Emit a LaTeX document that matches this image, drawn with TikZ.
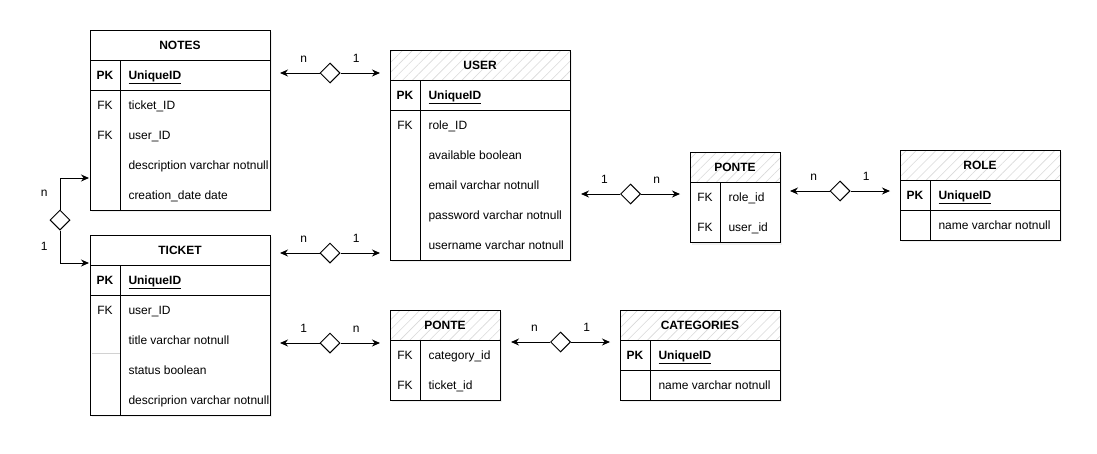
\documentclass[tikz,border=0pt]{standalone}
\usepackage{fontspec}
\setmainfont{Liberation Sans}
\usetikzlibrary{arrows.meta,shapes.geometric,patterns.meta,shadows}
\tikzstyle{table} = [draw, fill=white, rectangle, anchor=north west, inner sep=0pt, outer sep=0pt, drop shadow={shadow xshift=2pt, shadow yshift=-2pt, opacity=.12}]
\tikzstyle{header} = [draw, rectangle, anchor=north west, minimum height=30pt, inner sep=0pt, outer sep=0pt, text height=8.6pt, text depth=0pt, font=\fontsize{12}{14}\selectfont\bfseries]
\tikzstyle{hatched} = [header, preaction={fill=white}, pattern={Lines[angle=45,distance=7pt,line width=.6pt]}, pattern color=gray!30]
\tikzstyle{key} = [inner sep=0pt, text height=8.6pt, text depth=0pt, font=\fontsize{12}{14}\selectfont]
\tikzstyle{field} = [key, anchor=west]
\tikzstyle{rel} = [draw, fill=white, shape=diamond, minimum width=20pt, minimum height=20pt, inner sep=0pt]
\tikzstyle{card} = [inner sep=0pt, font=\fontsize{12}{14}\selectfont]
\tikzstyle{conn} = [-{Stealth[length=8pt,width=7pt]}]

\begin{document}
\begin{tikzpicture}[x=1pt, y=-1pt, line width=1pt]
    \useasboundingbox (0,0) rectangle (1097,453);

    % NOTES
    \draw (90,30) node[table, minimum width=180pt, minimum height=180pt] (notes) {};
    \draw (90,30) node[header, minimum width=180pt] (notes-h) {NOTES};
    \draw (90,90) -- (270,90);
    \draw (120,60) -- (120,210);
    \node[key] (notes-k0) at (105,75) {\textbf{PK}};
    \node[field] (notes-f0) at (128,75) {\textbf{\underline{UniqueID}}};
    \node[key] (notes-k1) at (105,105) {FK};
    \node[field] (notes-f1) at (128,105) {ticket\_ID};
    \node[key] (notes-k2) at (105,135) {FK};
    \node[field] (notes-f2) at (128,135) {user\_ID};
    \node[field] (notes-f3) at (128,165) {description varchar notnull};
    \node[field] (notes-f4) at (128,195) {creation\_date date};

    % TICKET
    \draw (90,235) node[table, minimum width=180pt, minimum height=180pt] (ticket) {};
    \draw (90,235) node[header, minimum width=180pt] (ticket-h) {TICKET};
    \draw (90,295) -- (270,295);
    \draw (120,265) -- (120,415);
    \draw [gray!35] (92,353) -- (120,353);
    \node[key] (ticket-k0) at (105,280) {\textbf{PK}};
    \node[field] (ticket-f0) at (128,280) {\textbf{\underline{UniqueID}}};
    \node[key] (ticket-k1) at (105,310) {FK};
    \node[field] (ticket-f1) at (128,310) {user\_ID};
    \node[field] (ticket-f2) at (128,340) {title varchar notnull};
    \node[field] (ticket-f3) at (128,370) {status boolean};
    \node[field] (ticket-f4) at (128,400) {descriprion varchar notnull};

    % USER
    \draw (390,50) node[table, minimum width=180pt, minimum height=210pt] (user) {};
    \draw (390,50) node[hatched, minimum width=180pt] (user-h) {USER};
    \draw (390,110) -- (570,110);
    \draw (420,80) -- (420,260);
    \node[key] (user-k0) at (405,95) {\textbf{PK}};
    \node[field] (user-f0) at (428,95) {\textbf{\underline{UniqueID}}};
    \node[key] (user-k1) at (405,125) {FK};
    \node[field] (user-f1) at (428,125) {role\_ID};
    \node[field] (user-f2) at (428,155) {available boolean};
    \node[field] (user-f3) at (428,185) {email varchar notnull};
    \node[field] (user-f4) at (428,215) {password varchar notnull};
    \node[field] (user-f5) at (428,245) {username varchar notnull};

    % PONTE user / role
    \draw (690,152.5) node[table, minimum width=90pt, minimum height=90pt] (ponteur) {};
    \draw (690,152.5) node[hatched, minimum width=90pt] (ponteur-h) {PONTE};
    \draw (720,182.5) -- (720,242.5);
    \node[key] (ponteur-k1) at (705,197.5) {FK};
    \node[field] (ponteur-f1) at (728,197.5) {role\_id};
    \node[key] (ponteur-k2) at (705,227.5) {FK};
    \node[field] (ponteur-f2) at (728,227.5) {user\_id};

    % ROLE
    \draw (900,150) node[table, minimum width=160pt, minimum height=90pt] (role) {};
    \draw (900,150) node[hatched, minimum width=160pt] (role-h) {ROLE};
    \draw (900,210) -- (1060,210);
    \draw (930,180) -- (930,240);
    \node[key] (role-k0) at (915,195) {\textbf{PK}};
    \node[field] (role-f0) at (938,195) {\textbf{\underline{UniqueID}}};
    \node[field] (role-f1) at (938,225) {name varchar notnull};

    % PONTE category / ticket
    \draw (390,310) node[table, minimum width=110pt, minimum height=90pt] (pontect) {};
    \draw (390,310) node[hatched, minimum width=110pt] (pontect-h) {PONTE};
    \draw (420,340) -- (420,400);
    \node[key] (pontect-k1) at (405,355) {FK};
    \node[field] (pontect-f1) at (428,355) {category\_id};
    \node[key] (pontect-k2) at (405,385) {FK};
    \node[field] (pontect-f2) at (428,385) {ticket\_id};

    % CATEGORIES
    \draw (620,310) node[table, minimum width=160pt, minimum height=90pt] (categories) {};
    \draw (620,310) node[hatched, minimum width=160pt] (categories-h) {CATEGORIES};
    \draw (620,370) -- (780,370);
    \draw (650,340) -- (650,400);
    \node[key] (categories-k0) at (635,355) {\textbf{PK}};
    \node[field] (categories-f0) at (658,355) {\textbf{\underline{UniqueID}}};
    \node[field] (categories-f1) at (658,385) {name varchar notnull};

    % relations
    \coordinate (nu-l) at (280,73);
    \coordinate (nu-r) at (380,73);
    \draw (330,73) node[rel] (nu) {};
    \draw [conn] (nu) -- node[card, pos=.4, above=10pt] (nu-a) {n} (nu-l);
    \draw [conn] (nu) -- node[card, pos=.4, above=10pt] (nu-b) {1} (nu-r);

    \coordinate (tu-l) at (280,253);
    \coordinate (tu-r) at (380,253);
    \draw (330,253) node[rel] (tu) {};
    \draw [conn] (tu) -- node[card, pos=.4, above=10pt] (tu-a) {n} (tu-l);
    \draw [conn] (tu) -- node[card, pos=.4, above=10pt] (tu-b) {1} (tu-r);

    \coordinate (tp-l) at (280,343);
    \coordinate (tp-r) at (380,343);
    \draw (330,343) node[rel] (tp) {};
    \draw [conn] (tp) -- node[card, pos=.4, above=10pt] (tp-a) {1} (tp-l);
    \draw [conn] (tp) -- node[card, pos=.4, above=10pt] (tp-b) {n} (tp-r);

    \coordinate (pc-l) at (511,342);
    \coordinate (pc-r) at (610,342);
    \draw (560.5,342) node[rel] (pc) {};
    \draw [conn] (pc) -- node[card, pos=.4, above=10pt] (pc-a) {n} (pc-l);
    \draw [conn] (pc) -- node[card, pos=.4, above=10pt] (pc-b) {1} (pc-r);

    \coordinate (up-l) at (581,194);
    \coordinate (up-r) at (680,194);
    \draw (630.5,194) node[rel] (up) {};
    \draw [conn] (up) -- node[card, pos=.4, above=10pt] (up-a) {1} (up-l);
    \draw [conn] (up) -- node[card, pos=.4, above=10pt] (up-b) {n} (up-r);

    \coordinate (pr-l) at (790,191);
    \coordinate (pr-r) at (890,191);
    \draw (840,191) node[rel] (pr) {};
    \draw [conn] (pr) -- node[card, pos=.4, above=10pt] (pr-a) {n} (pr-l);
    \draw [conn] (pr) -- node[card, pos=.4, above=10pt] (pr-b) {1} (pr-r);

    \coordinate (nt-t) at (89,178);
    \coordinate (nt-b) at (89,263);
    \draw (60,220) node[rel] (nt) {};
    \draw [conn] (nt) |- node[card, pos=.25, left=12pt] (nt-a) {n} (nt-t);
    \draw [conn] (nt) |- node[card, pos=.25, left=12pt] (nt-b1) {1} (nt-b);
\end{tikzpicture}
\end{document}
